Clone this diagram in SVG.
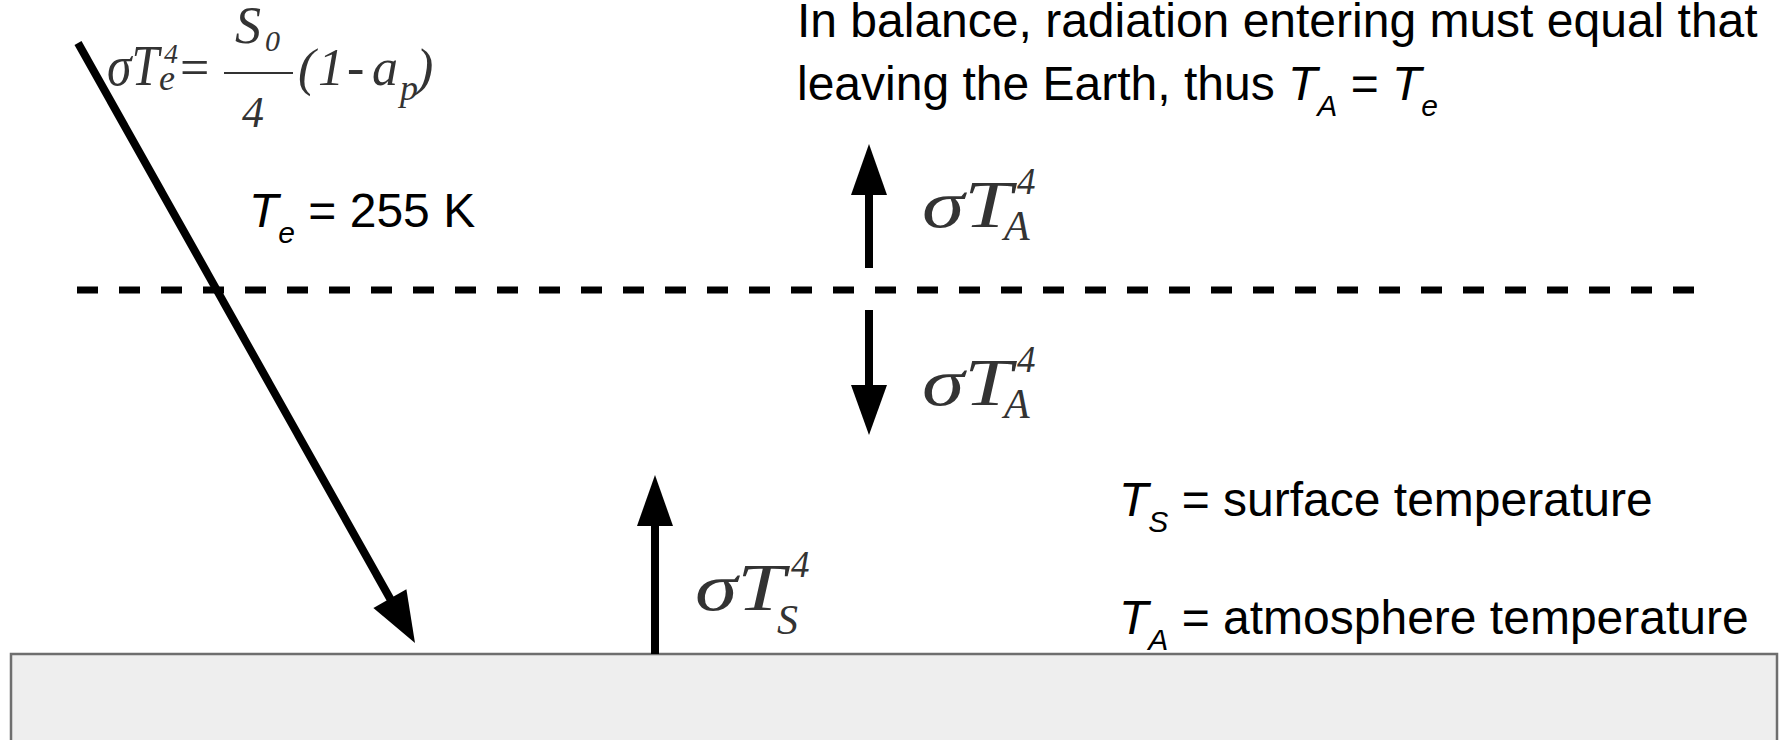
<svg xmlns="http://www.w3.org/2000/svg" width="1781" height="740" viewBox="0 0 1781 740">
<style>
.t{font-family:"Liberation Sans",Arial,sans-serif;font-size:48px;fill:#000}
.i{font-style:italic}
.sub{font-style:italic;font-size:30px}
.m{font-family:"Liberation Serif","Times New Roman",serif;font-style:italic;fill:#333}
.ln{stroke:#000;stroke-width:8;fill:none}
.hd{fill:#000}
</style>
<rect width="1781" height="740" fill="#fff"/>
<g id="ground">
<rect x="11" y="654" width="1766" height="100" fill="#eeeeee" stroke="#6e6e6e" stroke-width="2.5"/>
</g>
<g id="atmosphere-line">
<line x1="77" y1="290" x2="1699" y2="290" stroke="#000" stroke-width="7" stroke-dasharray="21 21"/>
</g>
<g id="connectors">
<line class="ln" x1="78" y1="43" x2="392" y2="602"/>
<polygon class="hd" points="415,643 373.4,608 406.4,589.2"/>
<line class="ln" x1="869" y1="268" x2="869" y2="190"/>
<polygon class="hd" points="869,144 851,195 887,195"/>
<line class="ln" x1="869" y1="310" x2="869" y2="390"/>
<polygon class="hd" points="869,435 851,385 887,385"/>
<line class="ln" x1="655" y1="654" x2="655" y2="520"/>
<polygon class="hd" points="655,475 637,526 673,526"/>
</g>
<g id="solar-formula" class="m">
<text x="107" y="85" font-size="58" textLength="52" lengthAdjust="spacingAndGlyphs">σT</text>
<text x="164" y="63" font-size="28">4</text>
<text x="159" y="90" font-size="36">e</text>
<text x="180" y="85" font-size="52" font-style="normal">=</text>
<text x="235" y="43" font-size="52">S</text>
<text x="265" y="51" font-size="30">0</text>
<line x1="224" y1="73" x2="293" y2="73" stroke="#333" stroke-width="2"/>
<text x="242" y="127" font-size="44">4</text>
<text x="298" y="85" font-size="52">(</text>
<text x="318" y="85" font-size="52">1</text>
<text x="347" y="85" font-size="52">-</text>
<text x="372" y="85" font-size="52">a</text>
<text x="400" y="100" font-size="36">p</text>
<text x="416" y="85" font-size="52">)</text>
</g>
<g id="balance-text" class="t">
<text x="797" y="37">In balance, radiation entering must equal that</text>
<text x="797" y="100">leaving the Earth, thus <tspan class="i">T</tspan><tspan class="sub" dy="16">A</tspan><tspan dy="-16"> = </tspan><tspan class="i">T</tspan><tspan class="sub" dy="16">e</tspan></text>
</g>
<g id="te-label" class="t">
<text x="249" y="227"><tspan class="i">T</tspan><tspan class="sub" dy="16">e</tspan><tspan dy="-16"> = 255 K</tspan></text>
</g>
<g id="flux-up-atm" class="m">
<text x="922" y="227" font-size="68" textLength="90" lengthAdjust="spacingAndGlyphs">σT</text>
<text x="1017" y="194" font-size="37">4</text>
<text x="1004" y="240" font-size="42">A</text>
</g>
<g id="flux-down-atm" class="m">
<text x="922" y="405" font-size="68" textLength="90" lengthAdjust="spacingAndGlyphs">σT</text>
<text x="1017" y="372" font-size="37">4</text>
<text x="1004" y="418" font-size="42">A</text>
</g>
<g id="flux-surface" class="m">
<text x="695" y="610" font-size="68" textLength="90" lengthAdjust="spacingAndGlyphs">σT</text>
<text x="791" y="577" font-size="37">4</text>
<text x="777" y="634" font-size="42">S</text>
</g>
<g id="legend" class="t">
<text x="1119" y="516"><tspan class="i">T</tspan><tspan class="sub" dy="16">S</tspan><tspan dy="-16"> = surface temperature</tspan></text>
<text x="1119" y="634"><tspan class="i">T</tspan><tspan class="sub" dy="16">A</tspan><tspan dy="-16"> = atmosphere temperature</tspan></text>
</g>
</svg>
